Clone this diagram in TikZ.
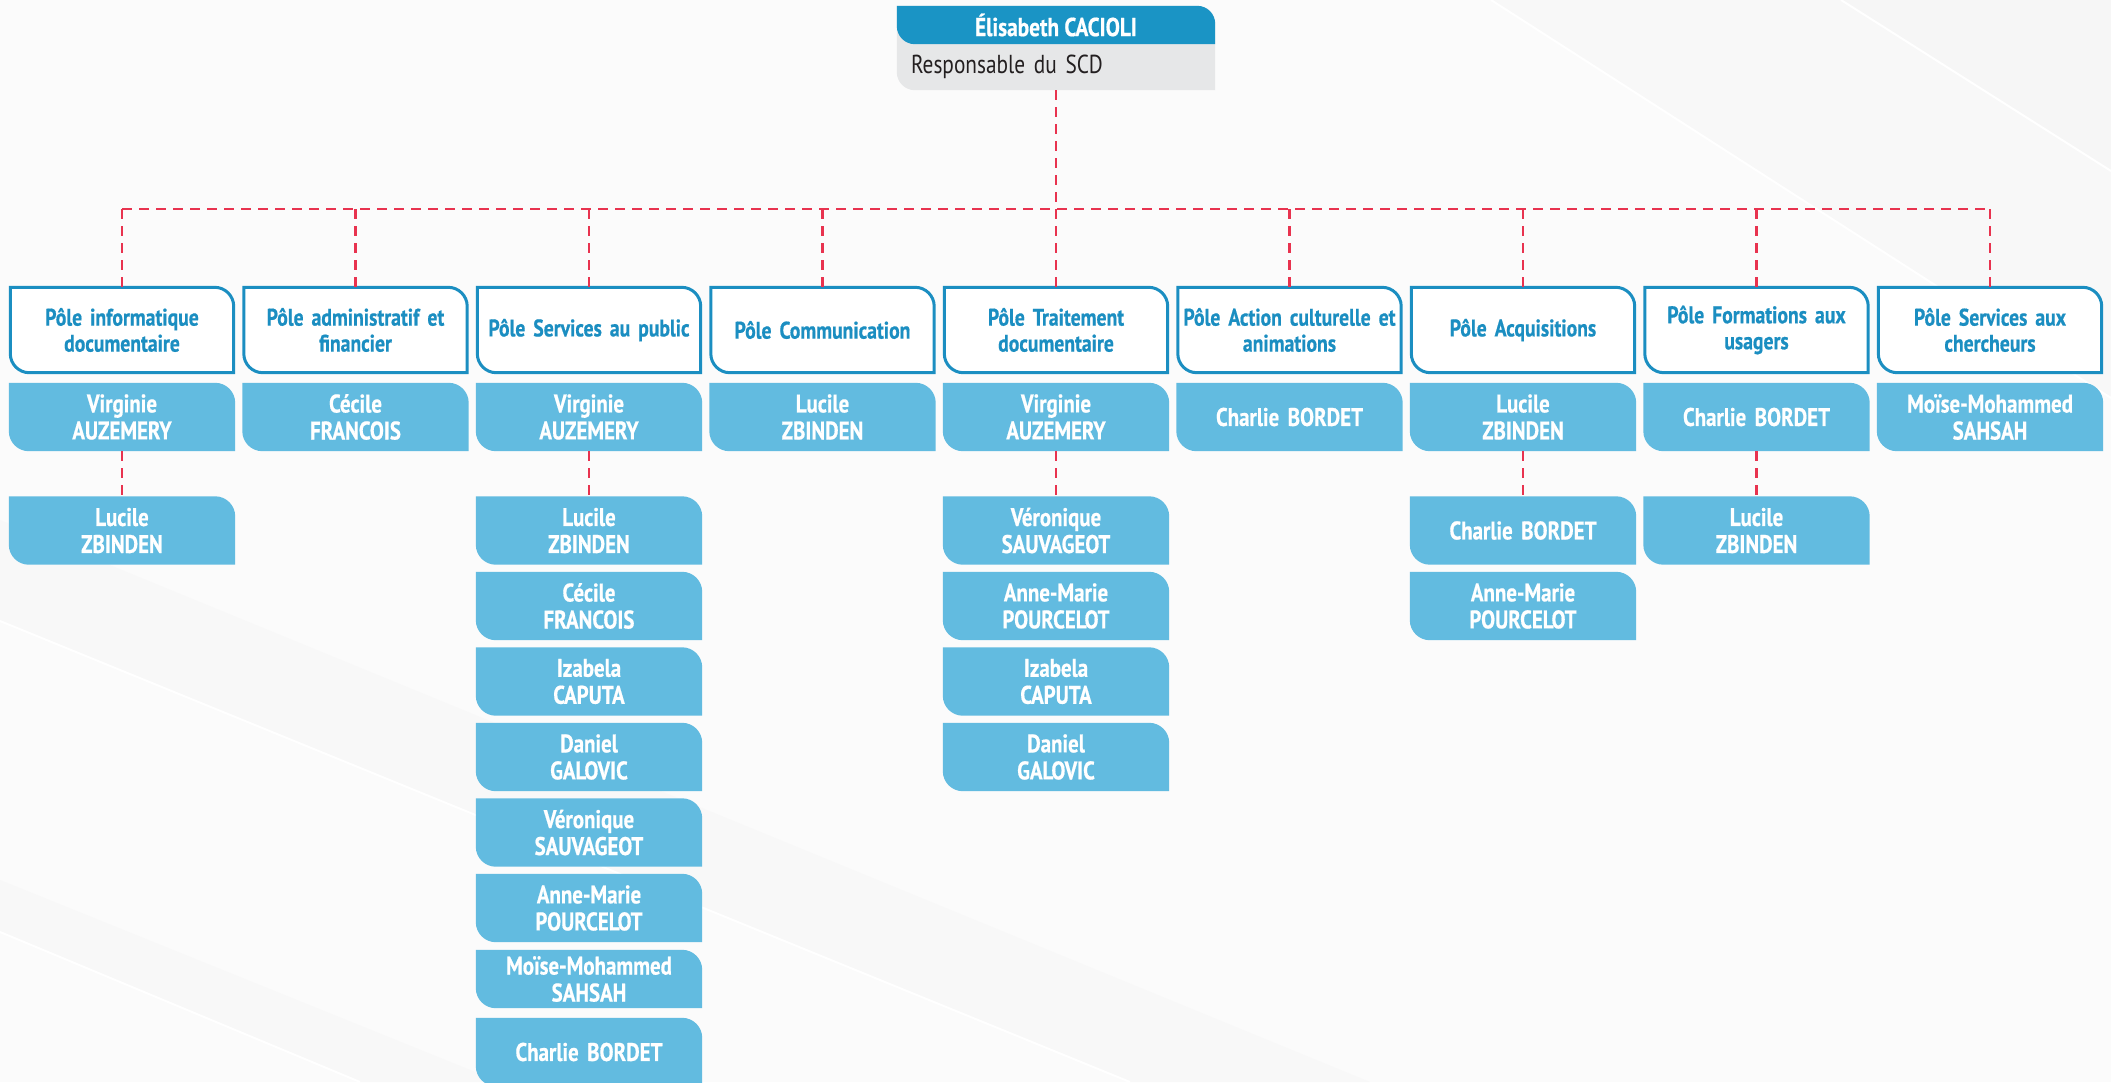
\documentclass[tikz,border=0pt]{standalone}
\usepackage{fontspec}
\setmainfont{PT Sans}[FakeStretch=0.82, BoldFeatures={FakeBold=0.6}]
\usetikzlibrary{calc}
\pgfdeclarelayer{bg}
\pgfsetlayers{bg,main}
\definecolor{hdrblue}{HTML}{1A94C5}
\definecolor{poleblue}{HTML}{1B8EC1}
\definecolor{persfill}{HTML}{62BBE0}
\definecolor{greybox}{HTML}{E6E7E8}
\definecolor{dashred}{HTML}{E8334F}
\definecolor{bgc}{HTML}{FBFBFB}
\definecolor{bgd}{HTML}{F4F4F4}
\definecolor{roletext}{HTML}{231F20}
\newcommand\leafbox[3]{let \p1=(#1), \p2=(#2) in (\x1,\y1) -- (\x2-#3,\y1) .. controls (\x2-0.45*#3,\y1) and (\x2,\y1-0.45*#3) .. (\x2,\y1-#3) -- (\x2,\y2) -- (\x1+#3,\y2) .. controls (\x1+0.45*#3,\y2) and (\x1,\y2+0.45*#3) .. (\x1,\y2+#3) -- cycle}
\begin{document}
\begin{tikzpicture}[x=1pt,y=-1pt,
  pole/.style={inner sep=0pt, minimum width=223pt, minimum height=85pt, text width=218pt, align=center, font=\fontsize{24}{26}\selectfont\bfseries, text=poleblue},
  pers/.style={inner sep=0pt, minimum width=226pt, minimum height=68pt, text width=222pt, align=center, font=\fontsize{25.5}{27}\selectfont\bfseries, text=white},
  perss/.style={pers, minimum height=58pt},
  hdr/.style={inner sep=0pt, minimum width=318pt, minimum height=38pt, align=center, font=\fontsize{26}{28}\selectfont\bfseries, text=white},
  rolebox/.style={inner sep=0pt, minimum width=318pt, minimum height=46pt, text width=290pt, align=left, font=\fontsize{26}{28}\selectfont, text=roletext},
  link/.style={draw=dashred, line width=2.8pt, dash pattern=on 10pt off 7pt}]
\useasboundingbox (0,0) rectangle (2111,1082);
\clip (0,0) rectangle (2111,1082);

% top
\node[hdr] (top) at (1056,25) {Élisabeth CACIOLI};
\node[rolebox] (role) at (1056,67) {Responsable du SCD};

% poles
\node[pole] (p1) at (122,330) {Pôle informatique\\documentaire};
\node[pole] (p2) at (355.5,330) {Pôle administratif et\\financier};
\node[pole] (p3) at (589,330) {Pôle Services au public};
\node[pole] (p4) at (822.5,330) {Pôle Communication};
\node[pole] (p5) at (1056,330) {Pôle Traitement\\documentaire};
\node[pole] (p6) at (1289.5,330) {Pôle Action culturelle et\\animations};
\node[pole] (p7) at (1523,330) {Pôle Acquisitions};
\node[pole] (p8) at (1756.5,330) {Pôle Formations aux\\usagers};
\node[pole] (p9) at (1990,330) {Pôle Services aux\\chercheurs};

% level 1
\node[pers] (a1) at (122,417) {Virginie\\AUZEMERY};
\node[pers] (a2) at (355.5,417) {Cécile\\FRANCOIS};
\node[pers] (a3) at (589,417) {Virginie\\AUZEMERY};
\node[pers] (a4) at (822.5,417) {Lucile\\ZBINDEN};
\node[pers] (a5) at (1056,417) {Virginie\\AUZEMERY};
\node[pers] (a6) at (1289.5,417) {Charlie BORDET};
\node[pers] (a7) at (1523,417) {Lucile\\ZBINDEN};
\node[pers] (a8) at (1756.5,417) {Charlie BORDET};
\node[pers] (a9) at (1990,417) {Moïse-Mohammed\\SAHSAH};

% level 2
\node[pers] (b1) at (122,530.5) {Lucile\\ZBINDEN};
\node[pers] (c1) at (589,530.5) {Lucile\\ZBINDEN};
\node[pers] (c2) at (589,606) {Cécile\\FRANCOIS};
\node[pers] (c3) at (589,681.5) {Izabela\\CAPUTA};
\node[pers] (c4) at (589,757) {Daniel\\GALOVIC};
\node[pers] (c5) at (589,832.5) {Véronique\\SAUVAGEOT};
\node[pers] (c6) at (589,908) {Anne-Marie\\POURCELOT};
\node[perss] (c7) at (589,979) {Moïse-Mohammed\\SAHSAH};
\node[pers] (c8) at (589,1052) {Charlie BORDET};
\node[pers] (d1) at (1056,530.5) {Véronique\\SAUVAGEOT};
\node[pers] (d2) at (1056,606) {Anne-Marie\\POURCELOT};
\node[pers] (d3) at (1056,681.5) {Izabela\\CAPUTA};
\node[pers] (d4) at (1056,757) {Daniel\\GALOVIC};
\node[pers] (e1) at (1523,530.5) {Charlie BORDET};
\node[pers] (e2) at (1523,606) {Anne-Marie\\POURCELOT};
\node[pers] (f1) at (1756.5,530.5) {Lucile\\ZBINDEN};

\coordinate (hl) at (1056,209);

\begin{pgfonlayer}{bg}
\begin{scope}
\clip (0,0) rectangle (2111,1082);
\fill[bgc] (0,0) rectangle (2111,1082);
% subtle background swooshes
\fill[bgc!50!bgd] (1491,0) -- (2111,0) -- (2111,398) -- cycle;
\fill[bgc!30!bgd] (1841,0) -- (2111,0) -- (2111,171) -- cycle;
\draw[white, line width=2pt] (1491,0) -- (2111,398);
\draw[white, line width=2pt] (1841,0) -- (2111,171);
\fill[bgc!55!bgd] (0,520) -- (1370,1082) -- (1130,1082) -- (0,621) -- cycle;
\fill[bgc!55!bgd] (0,880) -- (500,1082) -- (360,1082) -- (0,932) -- cycle;
\draw[white, line width=2pt] (0,621) -- (1130,1082);
\draw[white, line width=2pt] (0,932) -- (360,1082);
% boxes
\fill[greybox] \leafbox{top.north west}{role.south east}{18pt};
\fill[hdrblue] \leafbox{top.north west}{top.south east}{18pt};
\foreach \nm in {p1,p2,p3,p4,p5,p6,p7,p8,p9}
  \draw[poleblue, fill=white, line width=3pt] \leafbox{\nm.north west}{\nm.south east}{19pt};
\foreach \nm in {a1,a2,a3,a4,a5,a6,a7,a8,a9,b1,c1,c2,c3,c4,c5,c6,c7,c8,d1,d2,d3,d4,e1,e2,f1}
  \fill[persfill] \leafbox{\nm.north west}{\nm.south east}{20pt};
% connectors
\draw[link] (role.south) -- (p5.north);
\draw[link] (p1.north |- hl) -- (p9.north |- hl);
\foreach \nm in {p1,p2,p3,p4,p6,p7,p8,p9}
  \draw[link] (\nm.north |- hl) -- (\nm.north);
\draw[link] (a1.south) -- (b1.north);
\draw[link] (a3.south) -- (c1.north);
\draw[link] (a5.south) -- (d1.north);
\draw[link] (a7.south) -- (e1.north);
\draw[link] (a8.south) -- (f1.north);
\end{scope}
\end{pgfonlayer}
\end{tikzpicture}
\end{document}
